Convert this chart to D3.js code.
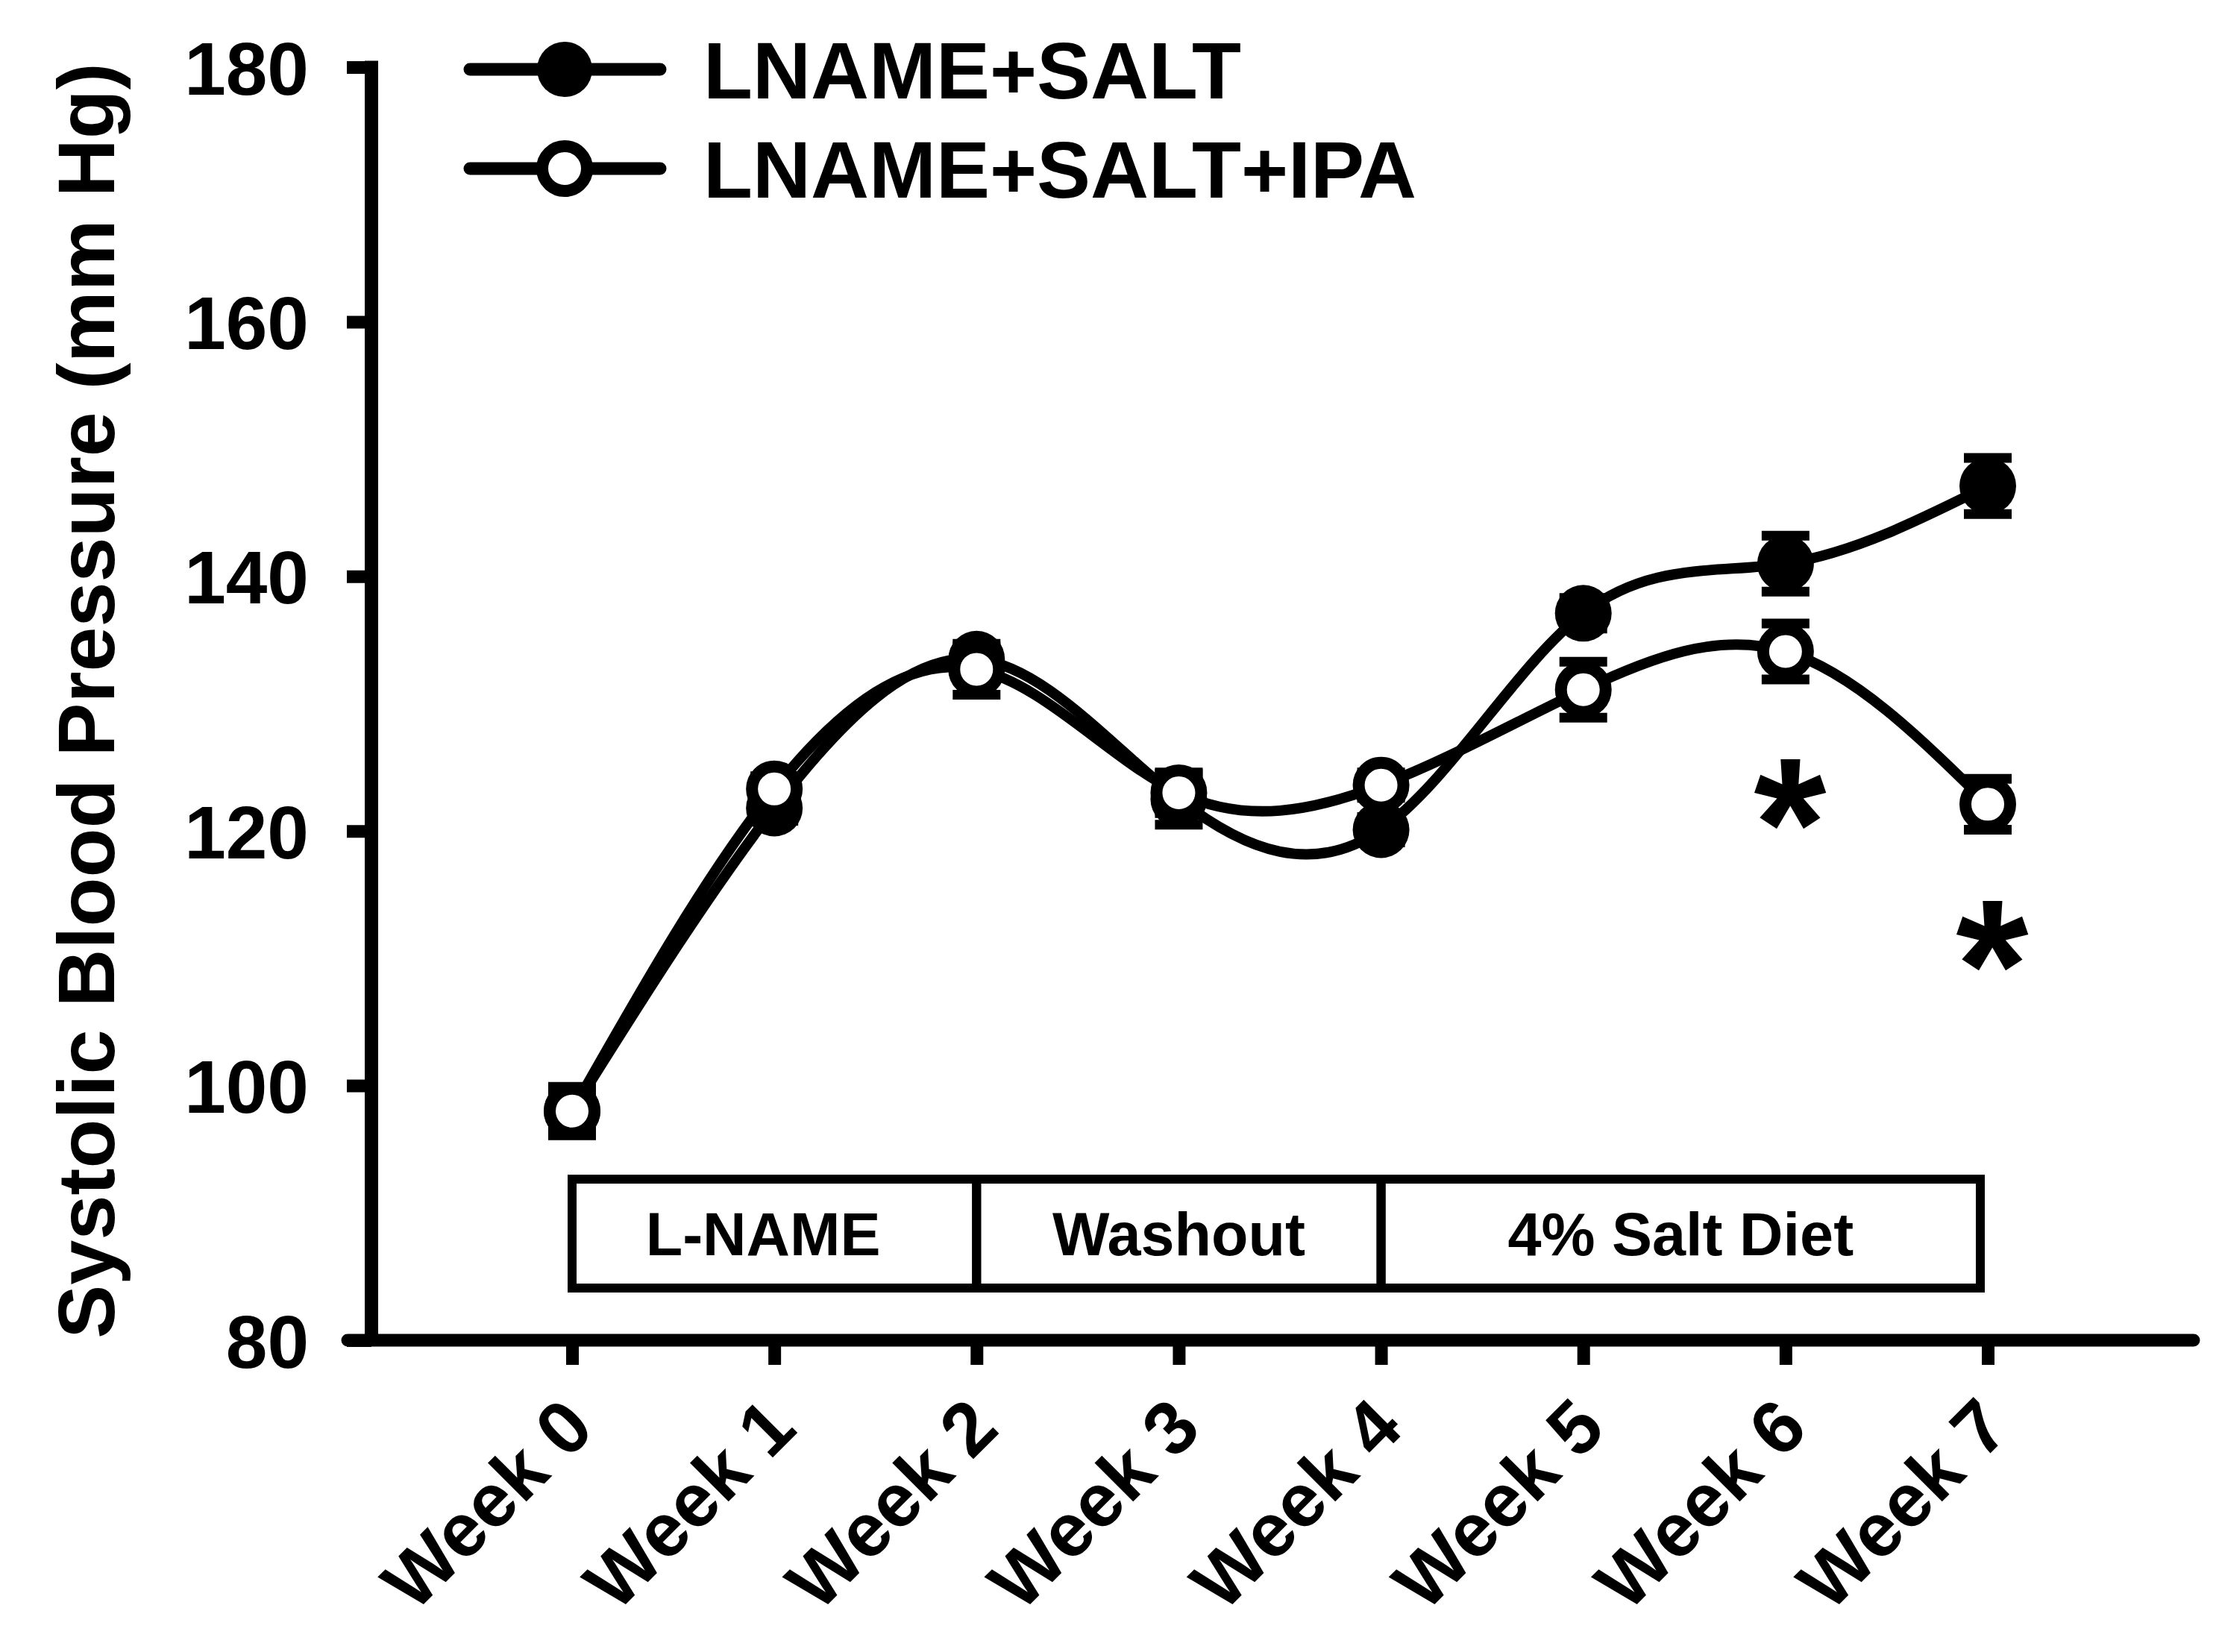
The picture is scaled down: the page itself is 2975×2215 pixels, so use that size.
<!DOCTYPE html>
<html>
<head>
<meta charset="utf-8">
<script src="https://cdn.jsdelivr.net/npm/d3@7"></script>
<style>
  html, body { margin: 0; padding: 0; background: #fff; }
  svg { display: block; }
  text { font-family: "Liberation Sans", Arial, sans-serif; font-weight: bold; fill: #000; }
</style>
</head>
<body>
<script>
// ---------------- DATA ----------------
const weeks = ["Week 0", "Week 1", "Week 2", "Week 3", "Week 4", "Week 5", "Week 6", "Week 7"];
const saltMean = [98.0, 121.8, 133.5, 122.5, 120.1, 137.1, 141.0, 147.1];
const saltSem  = [1.5, 1.0, 1.0, 2.0, 1.0, 1.2, 2.2, 2.2];
const ipaMean  = [98.0, 123.3, 132.7, 123.0, 123.6, 131.1, 134.1, 122.1];
const ipaSem   = [1.9, 1.0, 2.0, 1.6, 1.0, 2.2, 2.2, 2.0];
const seriesNames = ["LNAME+SALT", "LNAME+SALT+IPA"];
const yTicks = [80, 100, 120, 140, 160, 180];
const phases = [
  { label: "L-NAME", from: "Week 0", to: "Week 2" },
  { label: "Washout", from: "Week 2", to: "Week 4" },
  { label: "4% Salt Diet", from: "Week 4", to: "Week 7" }
];
const sigWeeks = ["Week 6", "Week 7"];
const sigLevels = [123.7, 112.6];
const yTitle = "Systolic Blood Pressure (mm Hg)";

// ---------------- LAYOUT ----------------
const W = 2975, H = 2215;
const axisX = 498, axisY = 1797, axisTop = 90;
const xAxisLeft = 466, xAxisRight = 2941;
const x = d3.scalePoint().domain(weeks).range([767, 2665]);
const y = d3.scaleLinear().domain([80, 180]).range([axisY, axisTop]);

const svg = d3.select("body").append("svg")
  .attr("width", W).attr("height", H)
  .attr("viewBox", `0 0 ${W} ${H}`);
svg.append("rect").attr("width", W).attr("height", H).attr("fill", "#fff");

// ---------------- AXES ----------------
const yAxis = svg.append("g").attr("transform", `translate(${axisX},0)`)
  .call(d3.axisLeft(y).tickValues(yTicks).tickSize(33).tickSizeOuter(0).tickPadding(51).tickFormat(d3.format("d")));
yAxis.select(".domain").remove();
yAxis.selectAll(".tick line").attr("stroke", "#000").attr("stroke-width", 17);
yAxis.selectAll(".tick text").attr("font-size", 100).attr("font-family", "Liberation Sans, Arial, sans-serif").attr("font-weight", "bold").attr("dy", "0.36em");
yAxis.append("line").attr("x1", 0).attr("x2", 0).attr("y1", y(180) - 8.5).attr("y2", y(80))
  .attr("stroke", "#000").attr("stroke-width", 18);

const xAxis = svg.append("g").attr("transform", `translate(0,${axisY})`)
  .call(d3.axisBottom(x).tickSize(33).tickSizeOuter(0).tickFormat(""));
xAxis.select(".domain").remove();
xAxis.selectAll(".tick line").attr("stroke", "#000").attr("stroke-width", 17);
xAxis.append("line").attr("x1", xAxisLeft).attr("x2", xAxisRight).attr("y1", 0).attr("y2", 0)
  .attr("stroke", "#000").attr("stroke-width", 17).attr("stroke-linecap", "round");

// rotated week labels
svg.append("g").selectAll("text").data(weeks).join("text")
  .attr("transform", d => `translate(${x(d) + 33},${axisY + 122}) rotate(-45)`)
  .attr("text-anchor", "end")
  .attr("font-size", 101)
  .text(d => d);

// y title
svg.append("text")
  .attr("transform", `translate(${153},${(y(80) + y(180)) / 2 - 4}) rotate(-90)`)
  .attr("text-anchor", "middle")
  .attr("font-size", 108)
  .text(yTitle);

// ---------------- PHASE BOX ----------------
const boxTop = 1581, boxBottom = 1727, boxRight = 2655;
const boxG = svg.append("g");
phases.forEach((p, i) => {
  const x0 = x(p.from);
  const x1 = i === phases.length - 1 ? boxRight : x(p.to);
  boxG.append("rect").attr("x", x0).attr("y", boxTop).attr("width", x1 - x0).attr("height", boxBottom - boxTop)
    .attr("fill", "none").attr("stroke", "#000").attr("stroke-width", 12);
  boxG.append("text").attr("x", (x0 + x1) / 2 - (i === 0 ? 15 : 0)).attr("y", (boxTop + boxBottom) / 2 + 29)
    .attr("text-anchor", "middle").attr("font-size", 81).text(p.label);
});

// ---------------- SERIES ----------------
const series = [
  { name: seriesNames[0], mean: saltMean, sem: saltSem, filled: true },
  { name: seriesNames[1], mean: ipaMean, sem: ipaSem, filled: false }
];
const line = d3.line().x(d => x(d.week)).y(d => y(d.v)).curve(d3.curveNatural);

series.forEach(s => {
  const pts = weeks.map((w, i) => ({ week: w, v: s.mean[i], e: s.sem[i] }));
  const g = svg.append("g");
  g.append("path").datum(pts).attr("d", line)
    .attr("fill", "none").attr("stroke", "#000").attr("stroke-width", 14);
  const eb = g.selectAll(".eb").data(pts).join("g");
  eb.append("line").attr("x1", d => x(d.week)).attr("x2", d => x(d.week))
    .attr("y1", d => y(d.v - d.e)).attr("y2", d => y(d.v + d.e))
    .attr("stroke", "#000").attr("stroke-width", 13);
  eb.append("line").attr("x1", d => x(d.week) - 32).attr("x2", d => x(d.week) + 32)
    .attr("y1", d => y(d.v + d.e)).attr("y2", d => y(d.v + d.e))
    .attr("stroke", "#000").attr("stroke-width", 13);
  eb.append("line").attr("x1", d => x(d.week) - 32).attr("x2", d => x(d.week) + 32)
    .attr("y1", d => y(d.v - d.e)).attr("y2", d => y(d.v - d.e))
    .attr("stroke", "#000").attr("stroke-width", 13);
  g.selectAll(".mk").data(pts).join("circle")
    .attr("cx", d => x(d.week)).attr("cy", d => y(d.v))
    .attr("r", s.filled ? 38 : 30)
    .attr("fill", s.filled ? "#000" : "#fff")
    .attr("stroke", "#000").attr("stroke-width", s.filled ? 0 : 16);
});

// significance asterisks
svg.append("g").selectAll("text").data(sigWeeks).join("text")
  .attr("x", (d, i) => x(d) + 6)
  .attr("y", (d, i) => y(sigLevels[i]) + 140)
  .attr("text-anchor", "middle")
  .attr("font-size", 250)
  .text("*");

// ---------------- LEGEND ----------------
const legend = svg.append("g");
series.forEach((s, i) => {
  const cy = 93 + i * 133;
  legend.append("line").attr("x1", 630).attr("x2", 885).attr("y1", cy).attr("y2", cy)
    .attr("stroke", "#000").attr("stroke-width", 17).attr("stroke-linecap", "round");
  legend.append("circle").attr("cx", 757).attr("cy", cy).attr("r", s.filled ? 37 : 30)
    .attr("fill", s.filled ? "#000" : "#fff").attr("stroke", "#000").attr("stroke-width", s.filled ? 0 : 16);
  legend.append("text").attr("x", 943).attr("y", cy + 39).attr("font-size", 108).text(s.name);
});
</script>
</body>
</html>
